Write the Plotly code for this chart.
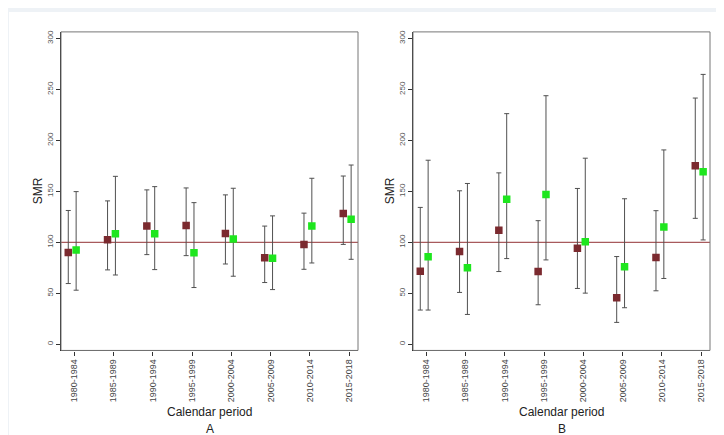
import plotly.graph_objects as go

periods = ["1980-1984", "1985-1989", "1990-1994", "1995-1999",
           "2000-2004", "2005-2009", "2010-2014", "2015-2018"]

# Panel A
a_maroon = [90, 102.6, 116, 116.6, 108.8, 85, 98, 128.3]
a_maroon_lo = [59.6, 73, 88, 87, 78.8, 60.6, 73.6, 98]
a_maroon_hi = [131.3, 140.7, 151.5, 153.4, 146.6, 116, 128.7, 165.1]
a_green = [92.5, 108.5, 108.5, 89.9, 103.3, 84.4, 116, 122.8]
a_green_lo = [53.1, 68, 73.3, 55.7, 66.8, 53.7, 79.8, 83.4]
a_green_hi = [149.8, 164.8, 154.7, 139, 153.1, 126, 162.9, 175.9]

# Panel B
b_maroon = [71.7, 91, 111.8, 71.4, 94.2, 45.6, 85.1, 175.1]
b_maroon_lo = [33.6, 50.9, 71.4, 38.8, 54.8, 21.5, 52.5, 123.6]
b_maroon_hi = [134.3, 150.6, 168.2, 121.3, 152.9, 86.1, 131.1, 241.6]
b_green = [85.8, 75, 142.2, 147, 100.7, 76, 115.1, 169.2]
b_green_lo = [33.6, 29.3, 84.1, 82.8, 50.2, 35.9, 64.6, 102.4]
b_green_hi = [180.6, 157.8, 226.3, 243.9, 182.6, 142.8, 190.7, 264.8]

y_ticks = [0, 50, 100, 150, 200, 250, 300]
ref_value = 100

W, H = 724, 435
MAROON = "#7b2a2f"
GREEN = "#1ee61e"
ERR = "#505050"

fig = go.Figure()


def add_series(vals, lo, hi, offset, color, xa, ya):
    xs = [i + offset for i in range(len(vals))]
    fig.add_trace(go.Scatter(
        x=xs, y=vals, mode="markers", xaxis=xa, yaxis=ya, showlegend=False,
        marker=dict(symbol="square", size=7.5, color=color, line=dict(width=0)),
        error_y=dict(type="data", symmetric=False,
                     array=[h - v for h, v in zip(hi, vals)],
                     arrayminus=[v - l for v, l in zip(vals, lo)],
                     color=ERR, thickness=1, width=2.5),
    ))


add_series(a_maroon, a_maroon_lo, a_maroon_hi, -0.15, MAROON, "x", "y")
add_series(a_green, a_green_lo, a_green_hi, 0.05, GREEN, "x", "y")
add_series(b_maroon, b_maroon_lo, b_maroon_hi, -0.15, MAROON, "x2", "y2")
add_series(b_green, b_green_lo, b_green_hi, 0.05, GREEN, "x2", "y2")

ydom = [1 - 342 / H, 1 - 22 / H]
xdomA = [53 / W, 350 / W]
xdomB = [405 / W, 702 / W]

xcommon = dict(
    range=[-0.335, 7.225], tickmode="array", tickvals=list(range(len(periods))),
    ticktext=periods, tickangle=-90, ticks="outside", ticklen=4, tickwidth=1,
    tickcolor="#333", showline=True, linecolor="#222", linewidth=1.3,
    showgrid=False, zeroline=False,
    tickfont=dict(family="Arial, Liberation Sans", size=9, color="#444"),
)
ycommon = dict(
    range=[-6, 306.5], tickmode="array", tickvals=y_ticks, tickangle=-90,
    ticks="outside", ticklen=4, tickwidth=1, tickcolor="#333",
    showline=True, linecolor="#222", linewidth=1.3, showgrid=False,
    zeroline=False, domain=ydom,
    tickfont=dict(family="Arial, Liberation Sans", size=8, color="#555"),
)

fig.update_layout(
    width=W, height=H, margin=dict(l=0, r=0, t=0, b=0),
    paper_bgcolor="#eef2f6", plot_bgcolor="white",
    xaxis=dict(xcommon, domain=xdomA, anchor="y"),
    yaxis=dict(ycommon, anchor="x"),
    xaxis2=dict(xcommon, domain=xdomB, anchor="y2"),
    yaxis2=dict(ycommon, anchor="x2"),
)

shapes = [dict(type="rect", xref="paper", yref="paper",
               x0=1 / W, x1=720 / W, y0=3 / H, y1=1 - 2 / H,
               fillcolor="white", line=dict(width=0), layer="below")]
for xa, ya in (("x", "y"), ("x2", "y2")):
    shapes.append(dict(type="rect", xref=f"{xa} domain", yref=f"{ya} domain",
                       x0=0, x1=1, y0=0, y1=1,
                       line=dict(color="#777", width=1), layer="above"))
    shapes.append(dict(type="line", xref=f"{xa} domain", yref=ya,
                       x0=0, x1=1, y0=ref_value, y1=ref_value,
                       line=dict(color="#a85a5c", width=1.3), layer="below"))
fig.update_layout(shapes=shapes)

F = "Arial, Liberation Sans"
ann = []
for cx, smr_x, lab in ((201.5, 30, "A"), (553.5, 382, "B")):
    ann.append(dict(text="SMR", x=smr_x / W, y=1 - 182 / H, xref="paper",
                    yref="paper", showarrow=False, textangle=-90,
                    font=dict(family=F, size=12, color="#222"),
                    xanchor="center", yanchor="middle", borderpad=0))
    ann.append(dict(text="Calendar period", x=cx / W, y=1 - 404 / H,
                    xref="paper", yref="paper", showarrow=False,
                    font=dict(family=F, size=12, color="#222"),
                    xanchor="center", yanchor="middle", borderpad=0))
    ann.append(dict(text=lab, x=cx / W, y=1 - 421 / H, xref="paper",
                    yref="paper", showarrow=False,
                    font=dict(family=F, size=12, color="#222"),
                    xanchor="center", yanchor="middle", borderpad=0))
fig.update_layout(annotations=ann)

fig.write_html("out.html")
